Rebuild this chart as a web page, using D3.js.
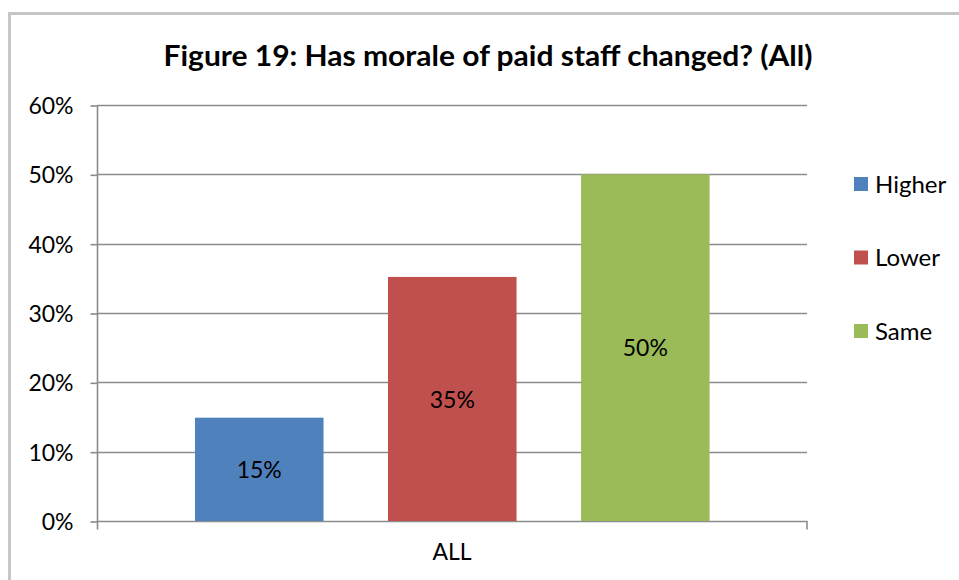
<!DOCTYPE html>
<html>
<head>
<meta charset="utf-8">
<script src="https://cdn.jsdelivr.net/npm/d3@7"></script>
<style>
  html, body { margin: 0; padding: 0; background: #fff; }
  svg { display: block; }
  text { font-family: Lato, "Open Sans", "DejaVu Sans", sans-serif; fill: #000; }
</style>
</head>
<body>
<svg id="chart" width="959" height="580"></svg>
<script>
// Survey responses for the single group "ALL"
const categories = ["ALL"];
const seriesNames = ["Higher", "Lower", "Same"];
const seriesValues = [0.149, 0.352, 0.50];
const seriesColors = ["#4F81BD", "#C0504D", "#9BBB59"];
const yTicks = [0, 0.1, 0.2, 0.3, 0.4, 0.5, 0.6];
const title = "Figure 19: Has morale of paid staff changed? (All)";

const svg = d3.select("#chart");

// outer chart frame
svg.append("rect")
  .attr("x", 9.5).attr("y", 13.5)
  .attr("width", 980).attr("height", 600)
  .attr("fill", "#fff")
  .attr("stroke", "#c6c6c6").attr("stroke-width", 3);

const plot = { left: 97, right: 807, top: 105, bottom: 521 };

const x0 = d3.scaleBand().domain(categories)
  .range([plot.left, plot.right]).paddingInner(0).paddingOuter(0);
const x1 = d3.scaleBand().domain(seriesNames)
  .range([x0.bandwidth() * 0.138, x0.bandwidth() * 0.8628])
  .paddingInner(0.334).paddingOuter(0);
const y = d3.scaleLinear().domain([0, 0.6]).range([plot.bottom, plot.top]);

const fmt = d3.format(".0%");
const font = "Lato, 'Open Sans', sans-serif";

// horizontal gridlines
svg.append("g").selectAll("line").data(yTicks.slice(1)).join("line")
  .attr("x1", plot.left).attr("x2", plot.right)
  .attr("y1", d => Math.round(y(d)) + 0.5).attr("y2", d => Math.round(y(d)) + 0.5)
  .attr("stroke", "#8c8c8c").attr("stroke-width", 1.6);

// y axis
const yAxis = d3.axisLeft(y).tickValues(yTicks).tickFormat(fmt)
  .tickSize(7).tickPadding(17);
const gy = svg.append("g")
  .attr("transform", `translate(${plot.left + 0.5},0.5)`)
  .call(yAxis);
gy.select(".domain").attr("stroke", "#8c8c8c").attr("stroke-width", 1.6)
  .attr("d", `M0,${plot.top}V${plot.bottom + 8}`);
gy.selectAll(".tick line").attr("stroke", "#8c8c8c").attr("stroke-width", 1.6);
gy.selectAll(".tick text")
  .style("font-size", "23px").style("font-family", font)
  .attr("fill", "#000").attr("dy", "0.35em");

// x axis
const xAxis = d3.axisBottom(x0).tickSize(0).tickPadding(22);
const gx = svg.append("g")
  .attr("transform", `translate(0,${plot.bottom + 0.5})`)
  .call(xAxis);
gx.select(".domain").attr("stroke", "#8c8c8c").attr("stroke-width", 1.6)
  .attr("d", `M${plot.left},0H${plot.right}V8`);
gx.selectAll(".tick text")
  .style("font-size", "23px").style("font-family", font)
  .attr("fill", "#000");

// bars
const rows = seriesNames.map((s, i) => ({ name: s, value: seriesValues[i], color: seriesColors[i] }));
const group = svg.append("g").attr("transform", `translate(${x0("ALL")},0)`);
group.selectAll("rect").data(rows).join("rect")
  .attr("x", d => x1(d.name))
  .attr("y", d => y(d.value))
  .attr("width", x1.bandwidth())
  .attr("height", d => y(0) - y(d.value))
  .attr("fill", d => d.color);

// value labels centred in each bar
group.selectAll("text.val").data(rows).join("text")
  .attr("class", "val")
  .attr("x", d => x1(d.name) + x1.bandwidth() / 2)
  .attr("y", d => (y(d.value) + y(0)) / 2)
  .attr("text-anchor", "middle").attr("dy", "0.38em")
  .style("font-size", "23px")
  .text(d => fmt(d.value));

// legend
const legend = svg.append("g").attr("transform", "translate(854,177)");
const items = legend.selectAll("g").data(rows).join("g")
  .attr("transform", (d, i) => `translate(0,${i * 73.5})`);
items.append("rect").attr("width", 14).attr("height", 14).attr("fill", d => d.color);
items.append("text").attr("x", 21).attr("y", 7).attr("dy", "0.36em")
  .style("font-size", "24px").text(d => d.name);

// title
svg.append("text")
  .attr("x", 488).attr("y", 66)
  .attr("text-anchor", "middle")
  .attr("textLength", 649).attr("lengthAdjust", "spacingAndGlyphs")
  .style("font-size", "29px").style("font-weight", "bold")
  .text(title);
</script>
</body>
</html>
